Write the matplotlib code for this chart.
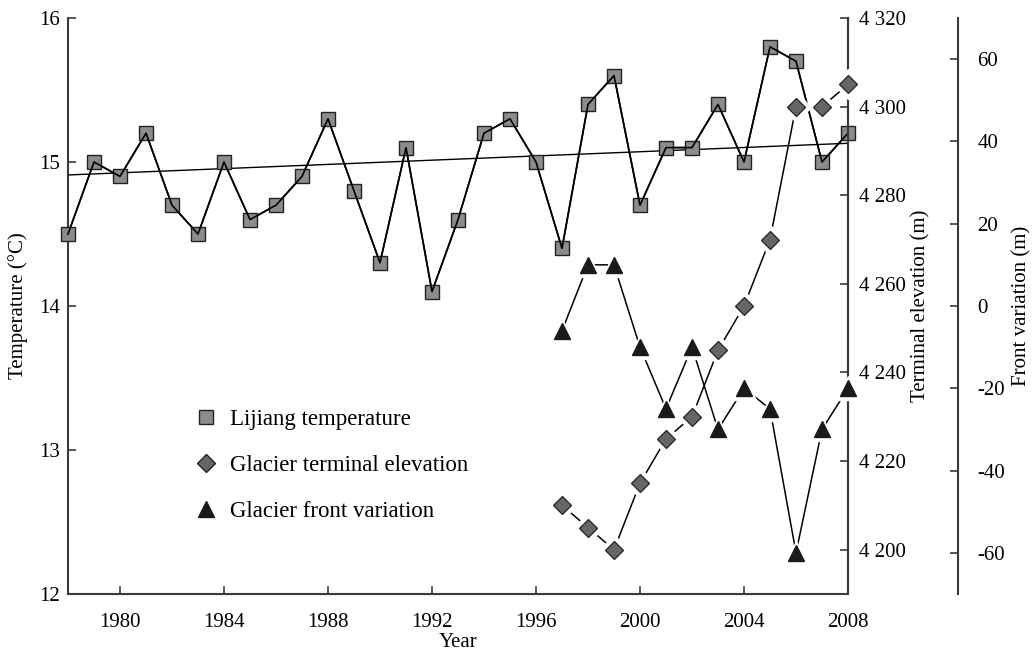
import matplotlib
matplotlib.use("Agg")
import matplotlib.pyplot as plt
from matplotlib.lines import Line2D

plt.rcParams['font.family'] = ['Liberation Serif', 'DejaVu Serif']
plt.rcParams['axes.unicode_minus'] = False

years = list(range(1978, 2009))
temperature = [14.5, 15.0, 14.9, 15.2, 14.7, 14.5, 15.0, 14.6, 14.7, 14.9,
               15.3, 14.8, 14.3, 15.1, 14.1, 14.6, 15.2, 15.3, 15.0, 14.4,
               15.4, 15.6, 14.7, 15.1, 15.1, 15.4, 15.0, 15.8, 15.7, 15.0, 15.2]
trend_years = [1978, 2008]
trend_values = [14.91, 15.13]

glacier_years = list(range(1997, 2009))
terminal_elev = [4210, 4205, 4200, 4215, 4225, 4230, 4245, 4255, 4270, 4300, 4300, 4305]
front_var = [-6, 10, 10, -10, -25, -10, -30, -20, -25, -60, -30, -20]

x_ticks = [1980, 1984, 1988, 1992, 1996, 2000, 2004, 2008]
temp_ticks = [12, 13, 14, 15, 16]
elev_ticks = [4200, 4220, 4240, 4260, 4280, 4300, 4320]
elev_labels = ['4 200', '4 220', '4 240', '4 260', '4 280', '4 300', '4 320']
front_ticks = [-60, -40, -20, 0, 20, 40, 60]

W, H = 1035, 655
fig = plt.figure(figsize=(W / 100, H / 100), dpi=100)
AX_L, AX_W, AX_B, AX_H = 68, 780, 594, 576
ax = fig.add_axes([AX_L / W, (H - AX_B) / H, AX_W / W, AX_H / H])

spine_c = '#3a3a3a'
fs = 15
lfs = 16.5

# temperature
ax.plot(years, temperature, color='black', lw=1.2, zorder=4,
        marker='s', markersize=10, markerfacecolor='#8c8c8c',
        markeredgecolor='#222222', markeredgewidth=1.0, clip_on=False)
ax.plot(trend_years, trend_values, color='black', lw=1.0, zorder=3)
ax.plot(years, temperature, color='black', lw=1.2, zorder=5, clip_on=False)

ax.set_xlim(1978, 2008)
ax.set_ylim(12, 16)
ax.set_xticks(x_ticks)
ax.set_yticks(temp_ticks)
ax.tick_params(axis='x', direction='in', length=6, width=1.2, color=spine_c, labelsize=fs, pad=14)
ax.tick_params(axis='y', direction='in', length=6, width=1.2, color=spine_c, labelsize=fs, pad=6)
ax.set_xlabel('Year', fontsize=fs)
ax.set_ylabel('Temperature (°C)', fontsize=fs)
ax.xaxis.set_label_coords((458 - AX_L) / AX_W, (AX_B - 633) / AX_H)
ax.yaxis.set_label_coords((28 - AX_L) / AX_W, 0.5)
ax.spines['top'].set_visible(False)
for s in ['left', 'bottom', 'right']:
    ax.spines[s].set_color(spine_c)
    ax.spines[s].set_linewidth(1.5)

# terminal elevation
ax2 = ax.twinx()
ax2.set_ylim(4190, 4320)
ax2.set_yticks(elev_ticks)
ax2.set_yticklabels(elev_labels)
ax2.tick_params(direction='in', length=6, width=1.2, color=spine_c, labelsize=fs, pad=8)
for s in ['top', 'left', 'bottom']:
    ax2.spines[s].set_visible(False)
ax2.spines['right'].set_color(spine_c)
ax2.spines['right'].set_linewidth(1.5)
ax2.set_ylabel('Terminal elevation (m)', fontsize=fs)
ax2.yaxis.set_label_coords((911 - AX_L) / AX_W, 0.5)
ax2.plot(glacier_years, terminal_elev, color='black', lw=1.1, zorder=2, clip_on=False)
ax2.plot(glacier_years, terminal_elev, linestyle='none', marker='D', markersize=15,
         markerfacecolor='white', markeredgecolor='white', zorder=3, clip_on=False)
ax2.plot(glacier_years, terminal_elev, linestyle='none', marker='D', markersize=9.5,
         markerfacecolor='#666666', markeredgecolor='#222222', markeredgewidth=0.9,
         zorder=4, clip_on=False)

# front variation
ax3 = ax.twinx()
ax3.spines['right'].set_position(('outward', 110 * 0.72))
ax3.set_ylim(-70, 70)
ax3.set_yticks(front_ticks)
ax3.tick_params(direction='in', length=6, width=1.2, color=spine_c, labelsize=fs, pad=14)
for s in ['top', 'left', 'bottom']:
    ax3.spines[s].set_visible(False)
ax3.spines['right'].set_color(spine_c)
ax3.spines['right'].set_linewidth(1.5)
ax3.set_ylabel('Front variation (m)', fontsize=fs)
ax3.yaxis.set_label_coords((1012 - AX_L) / AX_W, 0.5)
ax3.plot(glacier_years, front_var, color='black', lw=1.1, zorder=2, clip_on=False)
ax3.plot(glacier_years, front_var, linestyle='none', marker='^', markersize=17,
         markerfacecolor='white', markeredgecolor='white', zorder=3, clip_on=False)
ax3.plot(glacier_years, front_var, linestyle='none', marker='^', markersize=12,
         markerfacecolor='#1a1a1a', markeredgecolor='#1a1a1a', zorder=4, clip_on=False)

# legend
handles = [
    Line2D([], [], linestyle='none', marker='s', markersize=10, markerfacecolor='#8c8c8c',
           markeredgecolor='#222222', label='Lijiang temperature'),
    Line2D([], [], linestyle='none', marker='D', markersize=9.5, markerfacecolor='#666666',
           markeredgecolor='#222222', label='Glacier terminal elevation'),
    Line2D([], [], linestyle='none', marker='^', markersize=12, markerfacecolor='#1a1a1a',
           markeredgecolor='#1a1a1a', label='Glacier front variation'),
]
leg = ax3.legend(handles=handles, loc='upper left', bbox_to_anchor=(172 / W, (H - 388) / H),
                 bbox_transform=fig.transFigure, frameon=False, fontsize=lfs,
                 labelspacing=1.1, handletextpad=0.45, handlelength=1.2)

fig.savefig('out.png', dpi=100)
